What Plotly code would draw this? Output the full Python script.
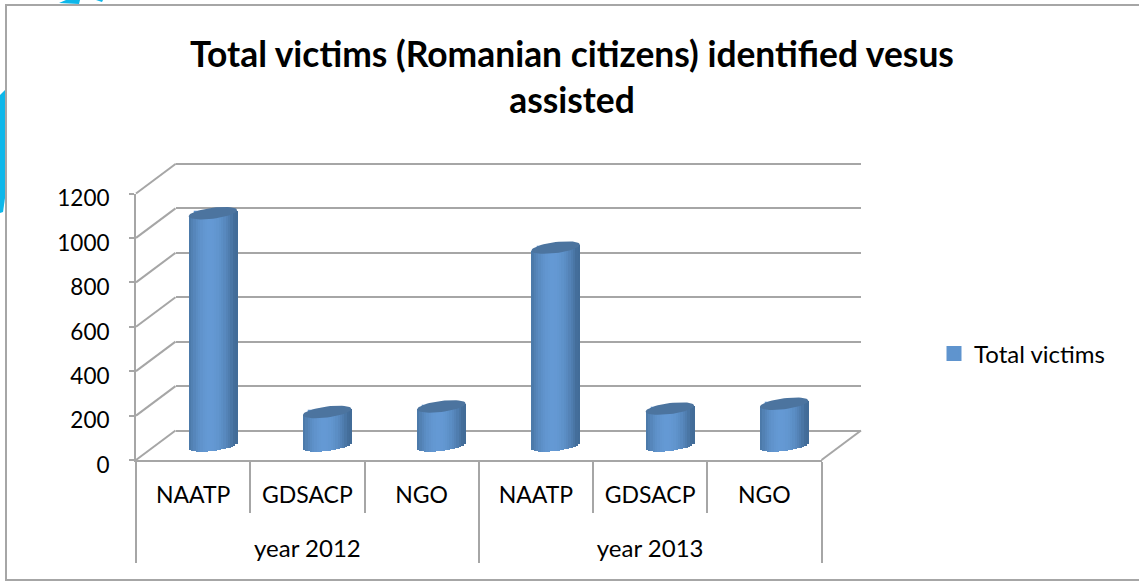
import math
import plotly.graph_objects as go

# values
years = ['year 2012'] * 3 + ['year 2013'] * 3
orgs = ['NAATP', 'GDSACP', 'NGO', 'NAATP', 'GDSACP', 'NGO']
total_victims = [1045, 150, 175, 890, 165, 187]
y_ticks = [0, 200, 400, 600, 800, 1000, 1200]
title_text = 'Total victims (Romanian citizens) identified vesus<br>assisted'

W, H = 1139, 581
# plot box in pixels: front wall + depth of the fake 3d
left, right, top, bottom = 136, 861, 164, 460
dx, dy = 39.5, 29.5
box_w, box_h = right - left, bottom - top
px_per_val = (box_h - dy) / 1200
grey = '#A6A6A6'
font = 'Lato, Carlito, sans-serif'
# the cylinders hang a little below zero, keep room for them
below = 60


def px(x):
    return (x - left) / box_w


def py(y):
    return (bottom - y) / box_h


def lerp_col(c1, c2, f):
    return 'rgb(%d,%d,%d)' % tuple(round(a + (b - a) * f) for a, b in zip(c1, c2))


# the axis font sets the gap between the two label rows, the spans set the real text size
year_labels = ['<br><span style="font-size:24px">%s</span>' % s for s in years]
org_labels = ['<span style="font-size:23px">%s</span>' % s for s in orgs]

fig = go.Figure()

# invisible traces so the front and back axes exist
fig.add_trace(go.Bar(x=[year_labels, org_labels], y=total_victims, marker=dict(opacity=0), showlegend=False,
                     hoverinfo='skip', xaxis='x', yaxis='y'))
fig.add_trace(go.Scatter(x=[0, 6], y=[0, 1200], mode='markers', marker=dict(opacity=0), showlegend=False,
                         hoverinfo='skip', xaxis='x2', yaxis='y2'))

centers = [i + 0.5 for i in range(len(total_victims))]

# real values, sits under the cylinder shading and gives the legend swatch
fig.add_trace(go.Bar(x=centers, y=total_victims, width=0.3, name='Total victims',
                     marker=dict(color='#5F94CE', line=dict(color='#5F94CE', width=3)),
                     xaxis='x3', yaxis='y3'))

# cylinder bodies: vertical slices with a dark-light-dark gradient
half = 0.212
b = 5.5 / px_per_val
tilt = 3.0 / px_per_val
n = 21
dark = (66, 108, 152)
light = (100, 153, 212)
for k in range(n):
    t = -1 + 2 * (k + 0.5) / n
    f = max(0, 1 - (abs(t + 0.12) / 1.0) ** 2)
    off = tilt * t
    sag = b * math.sqrt(1 - t * t)
    fig.add_trace(go.Bar(
        x=[c + t * half for c in centers],
        y=[v + sag for v in total_victims],
        base=off - sag,
        width=2 * half / n * 1.2,
        marker=dict(color=lerp_col(dark, light, f), line=dict(width=0)),
        showlegend=False, hoverinfo='skip', xaxis='x3', yaxis='y3'))

# cylinder tops
cap_x, cap_y = [], []
for c, v in zip(centers, total_victims):
    for j in range(49):
        a = 2 * math.pi * j / 48
        t = math.cos(a)
        cap_x.append(c + t * half)
        cap_y.append(v + tilt * t + b * math.sin(a))
    cap_x.append(None)
    cap_y.append(None)
fig.add_trace(go.Scatter(x=cap_x, y=cap_y, mode='lines', fill='toself', fillcolor='#4C749F',
                         line=dict(width=0, color='#4C749F'), showlegend=False, hoverinfo='skip',
                         xaxis='x3', yaxis='y3'))

shapes = []
# side wall and floor diagonals
for v in y_ticks:
    y0 = bottom - v * px_per_val
    shapes.append(dict(type='line', xref='paper', yref='paper', x0=px(left), y0=py(y0),
                       x1=px(left + dx), y1=py(y0 - dy), line=dict(color=grey, width=2), layer='below'))
shapes.append(dict(type='line', xref='paper', yref='paper', x0=px(right - dx), y0=py(bottom),
                   x1=px(right), y1=py(bottom - dy), line=dict(color=grey, width=2), layer='below'))
# plotly drops the grid line on the top edge of the back wall
shapes.append(dict(type='line', xref='paper', yref='paper', x0=px(left + dx), y0=1, x1=1, y1=1,
                   line=dict(color=grey, width=2), layer='below'))
# chart border, runs off the right edge
shapes.append(dict(type='rect', xref='paper', yref='paper', x0=px(6), y0=py(5), x1=px(W + 10), y1=py(580),
                   line=dict(color=grey, width=2), layer='below'))


def cyan_blob(points):
    path = 'M' + 'L'.join('%.4f,%.4f' % (px(x), py(y)) for x, y in points) + 'Z'
    shapes.append(dict(type='path', xref='paper', yref='paper', path=path, fillcolor='#0DB7EA',
                       line=dict(width=0), layer='below'))


# bits of the page behind the chart
cyan_blob([(59, 3), (66, 0), (80, 0), (79, 4)])
cyan_blob([(96, 0), (103, 0), (102, 2)])
cyan_blob([(0, 95), (5, 90), (5, 198), (3, 212), (0, 213)])

mid_base = dy / 2 - below * px_per_val
fig.update_layout(
    width=W, height=H,
    margin=dict(l=left, r=W - right, t=top, b=H - bottom, pad=0),
    paper_bgcolor='white', plot_bgcolor='rgba(0,0,0,0)',
    barmode='overlay', bargap=0,
    font=dict(family=font, color='#000000', size=22),
    title=dict(text=title_text, x=572 / W, xanchor='center', y=1 - 67 / H, yanchor='top',
               font=dict(family=font, size=35.4, color='#000000', weight='bold')),
    shapes=shapes,
    showlegend=True,
    legend=dict(x=px(934), y=py(354), xanchor='left', yanchor='middle', font=dict(size=24),
                bgcolor='rgba(0,0,0,0)', borderwidth=0),
    xaxis=dict(type='multicategory', domain=[0, (box_w - dx) / box_w], anchor='y', range=[-0.5, 5.5],
               showline=True, linecolor=grey, linewidth=2, ticks='outside', ticklen=51, tickwidth=2,
               tickcolor=grey, showdividers=True, dividercolor=grey, dividerwidth=2, showgrid=False,
               ticklabelstandoff=10, tickfont=dict(size=26)),
    yaxis=dict(domain=[0, (box_h - dy) / box_h], anchor='x', range=[0, 1200], tickvals=y_ticks,
               showline=True, linecolor=grey, linewidth=2, ticks='outside', ticklen=5, tickwidth=2,
               tickcolor=grey, showgrid=False, zeroline=False, ticklabelstandoff=15, ticklabelshift=5,
               tickfont=dict(size=22.5)),
    xaxis2=dict(domain=[dx / box_w, 1], anchor='y2', range=[0, 6], visible=False),
    yaxis2=dict(domain=[dy / box_h, 1], anchor='x2', range=[0, 1200], tickvals=y_ticks, showgrid=True,
                gridcolor=grey, gridwidth=2, zeroline=True, zerolinecolor=grey, zerolinewidth=2,
                showticklabels=False, ticks='', showline=False),
    xaxis3=dict(domain=[dx / 2 / box_w, 1 - dx / 2 / box_w], anchor='y3', range=[0, 6], visible=False),
    yaxis3=dict(domain=[mid_base / box_h, 1 - dy / 2 / box_h], anchor='x3', range=[-below, 1200], visible=False),
)

# the page body has a default margin, the picture needs the chart flush in the corner
fig.write_html('out.html', config=dict(displayModeBar=False), post_script="document.body.style.margin='0';")
